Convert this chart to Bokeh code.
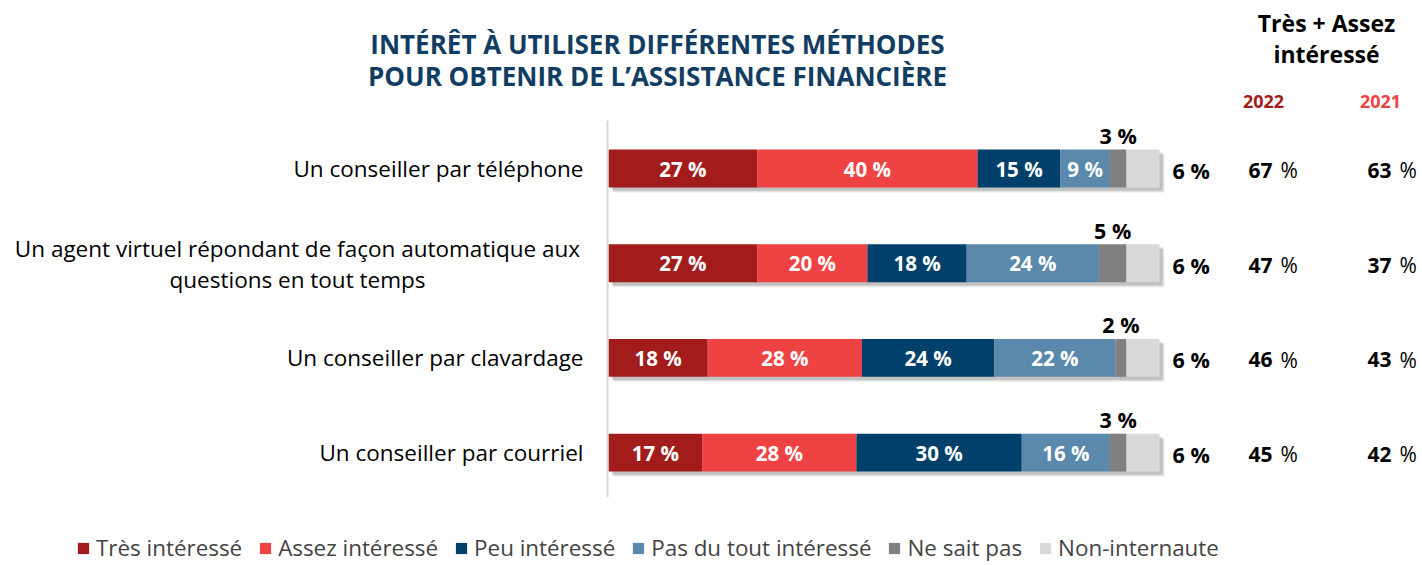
import numpy as np
from bokeh.plotting import figure
from bokeh.models import Range1d, Legend, LegendItem
from bokeh.core.properties import value
from bokeh.embed import file_html
from bokeh.resources import INLINE

# ---------------- data ----------------
categories = [
    "Un conseiller par téléphone",
    "Un agent virtuel répondant de façon automatique aux\nquestions en tout temps",
    "Un conseiller par clavardage",
    "Un conseiller par courriel",
]
series_names = ["Très intéressé", "Assez intéressé", "Peu intéressé",
                "Pas du tout intéressé", "Ne sait pas", "Non-internaute"]
tres = [27, 27, 18, 17]
assez = [40, 20, 28, 28]
peu = [15, 18, 24, 30]
pas_du_tout = [9, 24, 22, 16]
ne_sait_pas = [3, 5, 2, 3]
non_internaute = [6, 6, 6, 6]
total_2022 = [67, 47, 46, 45]
total_2021 = [63, 37, 43, 42]

colors = ["#A31C1C", "#EF4343", "#00406B", "#5A89AC", "#808080", "#D9D9D9"]
TITLE_COLOR = "#123D63"
FONT = "Open Sans"

# ---------------- geometry ----------------
W, H = 1420, 563
ORG = 0                   # page position of the frame's top-left corner
X0, SX = 608.0, 5.51      # page x of 0 %, px per %
Y0, SY = 168.0, 94.7      # page y of first row, px per row


def dx(px):
    return (px - X0) / SX


def dy(py):
    return (py - Y0) / SY


p = figure(width=W, height=H, output_backend="svg", toolbar_location=None,
           x_range=Range1d(dx(ORG), dx(ORG + W)), y_range=Range1d(dy(ORG + H), dy(ORG)),
           min_border=0, outline_line_color=None)
p.axis.visible = False
p.grid.visible = False

rows = np.arange(len(categories))
series = [tres, assez, peu, pas_du_tout, ne_sait_pas, non_internaute]
arr = np.array(series, dtype=float)
rights = np.cumsum(arr, axis=0)
lefts = rights - arr
totals = rights[-1]

BH = 0.40
# shadow
for k, a in [(5, 0.10), (4, 0.12), (3, 0.15)]:
    p.hbar(y=rows + k * 1.0 / SY, left=np.zeros(4) + k / SX, right=totals + k / SX,
           height=BH, fill_color="#404040", fill_alpha=a, line_color=None)

renderers = []
for i, name in enumerate(series_names):
    r = p.hbar(y=rows, left=lefts[i], right=rights[i], height=BH,
               fill_color=colors[i], line_color=None)
    renderers.append(r)

# vertical axis line
p.segment(x0=[dx(607)], y0=[dy(120)], x1=[dx(607)], y1=[dy(497)],
          line_color="#D9D9D9", line_width=2)

# segment labels (inside, white)
for i in range(4):
    xs, ys, ts = [], [], []
    for j in range(len(categories)):
        xs.append((lefts[i][j] + rights[i][j]) / 2)
        ys.append(rows[j])
        ts.append(f"{series[i][j]} %")
    p.text(x=xs, y=ys, text=ts, text_color="white", text_font=value(FONT),
           text_font_style="bold", text_font_size="20.5px",
           text_align="center", text_baseline="middle")

# "ne sait pas" labels above the bars
p.text(x=list((lefts[4] + rights[4]) / 2), y=list(rows + dy(135)), text=[f"{v} %" for v in ne_sait_pas],
       text_color="black", text_font=value(FONT), text_font_style="bold",
       text_font_size="21.5px", text_align="center", text_baseline="middle")

# non-internaute labels to the right
p.text(x=list(totals + dx(1172) - 100), y=list(rows + 0.02), text=[f"{v} %" for v in non_internaute],
       text_color="black", text_font=value(FONT), text_font_style="bold",
       text_font_size="21.5px", text_align="left", text_baseline="middle")

# category labels
for j, c in enumerate(categories):
    if "\n" in c:
        lines = c.split("\n")
        p.text(x=[dx(297)] * 2, y=[rows[j] - 0.15, rows[j] + 0.17], text=lines,
               text_color="black", text_font=value(FONT), text_font_size="22.5px",
               text_align="center", text_baseline="middle")
    else:
        p.text(x=[dx(583)], y=[rows[j]], text=[c], text_color="black",
               text_font=value(FONT), text_font_size="22.5px",
               text_align="right", text_baseline="middle")

# right columns: totals 2022 / 2021
p.text(x=[dx(1272)] * 4, y=list(rows + 0.02), text=[str(v) for v in total_2022],
       text_color="black", text_font=value(FONT), text_font_style="bold",
       text_font_size="21px", text_align="right", text_baseline="middle")
p.text(x=[dx(1280)] * 4, y=list(rows + 0.02), text=["%"] * 4,
       text_color="black", text_font=value(FONT), text_font_size="21px",
       text_align="left", text_baseline="middle")
p.text(x=[dx(1391)] * 4, y=list(rows + 0.02), text=[str(v) for v in total_2021],
       text_color="black", text_font=value(FONT), text_font_style="bold",
       text_font_size="21px", text_align="right", text_baseline="middle")
p.text(x=[dx(1399)] * 4, y=list(rows + 0.02), text=["%"] * 4,
       text_color="black", text_font=value(FONT), text_font_size="21px",
       text_align="left", text_baseline="middle")

# headers
p.text(x=[dx(1326)] * 2, y=[dy(22), dy(53)], text=["Très + Assez", "intéressé"],
       text_color="black", text_font=value(FONT), text_font_style="bold",
       text_font_size="23px", text_align="center", text_baseline="middle")
p.text(x=[dx(1263)], y=[dy(101)], text=["2022"], text_color=colors[0],
       text_font=value(FONT), text_font_style="bold", text_font_size="18px",
       text_align="center", text_baseline="middle")
p.text(x=[dx(1380)], y=[dy(101)], text=["2021"], text_color=colors[1],
       text_font=value(FONT), text_font_style="bold", text_font_size="18px",
       text_align="center", text_baseline="middle")

# title
p.text(x=[dx(657)] * 2, y=[dy(43), dy(75)],
       text=["INTÉRÊT À UTILISER DIFFÉRENTES MÉTHODES",
             "POUR OBTENIR DE L’ASSISTANCE FINANCIÈRE"],
       text_color=TITLE_COLOR, text_font=value(FONT), text_font_style="bold",
       text_font_size="26px", text_align="center", text_baseline="middle")

# legend
legend = Legend(items=[LegendItem(label=n, renderers=[r]) for n, r in zip(series_names, renderers)],
                orientation="horizontal", location=(76, 0),
                glyph_width=14, glyph_height=14, label_text_font=FONT,
                label_text_font_size="22.4px", label_standoff=6, spacing=16,
                padding=0, margin=0, border_line_color=None,
                background_fill_alpha=0)
p.add_layout(legend)

open("out.html", "w").write(file_html(p, INLINE))
